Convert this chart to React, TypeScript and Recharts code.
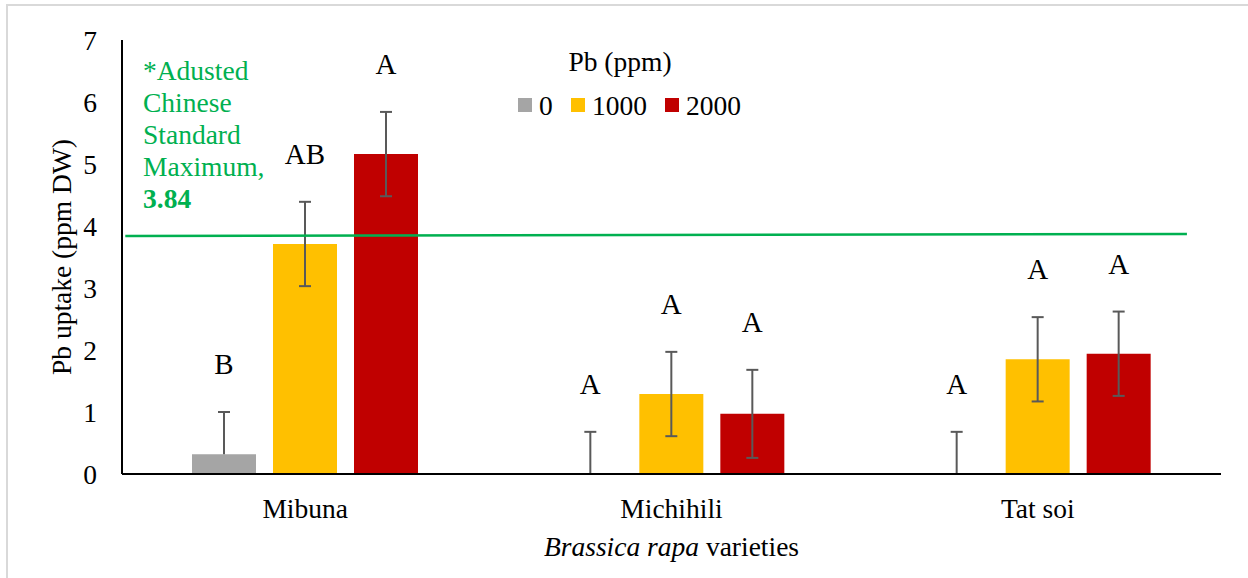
import { Bar, BarChart, ErrorBar, Label, LabelList, ReferenceLine, XAxis, YAxis } from "recharts";

const VARIETIES = ["Mibuna", "Michihili", "Tat soi"];

// mean Pb uptake per treatment (ppm DW)
const PB_0 = [0.32, 0, 0];
const PB_1000 = [3.71, 1.29, 1.85];
const PB_2000 = [5.16, 0.97, 1.94];

// error bar sizes
const ERR_0 = [0.68, 0.68, 0.68];
const ERR_1000 = [0.68, 0.68, 0.68];
const ERR_2000 = [0.68, 0.71, 0.68];

// significance letters
const LETTERS_0 = ["B", "A", "A"];
const LETTERS_1000 = ["AB", "A", "A"];
const LETTERS_2000 = ["A", "A", "A"];

const Y_TICKS = [0, 1, 2, 3, 4, 5, 6, 7];
const STANDARD_MAX = 3.84;
const STANDARD_TEXT = ["*Adusted", "Chinese", "Standard", "Maximum,"];

const SERIES = [
  { key: "pb0", name: "0", color: "#a5a5a5", values: PB_0, errs: ERR_0, letters: LETTERS_0, upperOnly: true },
  { key: "pb1000", name: "1000", color: "#ffc000", values: PB_1000, errs: ERR_1000, letters: LETTERS_1000, upperOnly: false },
  { key: "pb2000", name: "2000", color: "#c00000", values: PB_2000, errs: ERR_2000, letters: LETTERS_2000, upperOnly: false },
];

const FONT = "Liberation Serif, Times New Roman, Tinos, DejaVu Serif, serif";
const GREEN = "#00b050";
const ERR_COLOR = "#595959";

const data = VARIETIES.map((name, i) => {
  const row: Record<string, unknown> = { name };
  SERIES.forEach((s) => {
    row[s.key] = s.values[i];
    row[s.key + "Err"] = [s.errs[i], s.errs[i]];
    row[s.key + "Gap"] = s.errs[i];
    row[s.key + "Letter"] = s.letters[i];
  });
  return row;
});

// upper half of an error bar, drawn over the invisible stacked segment
function UpperErrorShape(props: any) {
  const { x, y, width, height } = props;
  const cx = x + width / 2;
  return (
    <g>
      <line x1={cx} x2={cx} y1={y} y2={y + height} stroke={ERR_COLOR} strokeWidth={2} />
      <line x1={cx - 6} x2={cx + 6} y1={y} y2={y} stroke={ERR_COLOR} strokeWidth={2} />
    </g>
  );
}

// the standard line stops a little short of the plot's right edge
function StandardLine(props: any) {
  const { x1, x2, y1, y2 } = props;
  const w = x2 - x1;
  return (
    <line
      x1={x1 + w * 0.003}
      x2={x1 + w * 0.969}
      y1={y1}
      y2={y2 - 2}
      stroke={GREEN}
      strokeWidth={2.5}
    />
  );
}

function YTitle(props: any) {
  const { viewBox } = props;
  const cx = viewBox.x + 21;
  const cy = viewBox.y + viewBox.height / 2;
  return (
    <text
      x={cx}
      y={cy}
      dy="0.35em"
      textAnchor="middle"
      transform={`rotate(-90, ${cx}, ${cy})`}
      style={{ fontFamily: FONT }}
      fontSize={27.5}
      fill="#000"
    >
      Pb uptake (ppm DW)
    </text>
  );
}

function XTitle(props: any) {
  const { viewBox } = props;
  return (
    <text
      x={viewBox.x + viewBox.width / 2}
      y={viewBox.y + 82}
      textAnchor="middle"
      style={{ fontFamily: FONT }}
      fontSize={27.5}
      fill="#000"
    >
      <tspan fontStyle="italic">Brassica rapa</tspan> varieties
    </text>
  );
}

function StandardNote(props: any) {
  const { viewBox } = props;
  const x = viewBox.x + 21;
  const lastBaseline = viewBox.y - 28;
  const lines = [...STANDARD_TEXT, String(STANDARD_MAX)];
  return (
    <text style={{ fontFamily: FONT }} fontSize={27.5} fill={GREEN}>
      {lines.map((line, i) => (
        <tspan
          key={line}
          x={x}
          y={lastBaseline - (lines.length - 1 - i) * 32}
          fontWeight={i === lines.length - 1 ? "bold" : "normal"}
        >
          {line}
        </tspan>
      ))}
    </text>
  );
}

function LegendOverlay() {
  const itemX = [518, 571, 665];
  return (
    <svg
      width={1248}
      height={578}
      style={{ position: "absolute", left: 0, top: 0, pointerEvents: "none", fontFamily: FONT }}
    >
      <text x={620} y={71} textAnchor="middle" fontSize={27.5} fill="#000">
        Pb (ppm)
      </text>
      {SERIES.map((s, i) => (
        <g key={s.key}>
          <rect x={itemX[i]} y={98} width={14} height={14} fill={s.color} />
          <text x={itemX[i] + 21} y={115} fontSize={27.5} fill="#000">
            {s.name}
          </text>
        </g>
      ))}
    </svg>
  );
}

export default function App() {
  const tickStyle = { fill: "#000", fontSize: 27.5, fontFamily: FONT };
  return (
    <div
      style={{
        position: "absolute",
        left: 0,
        top: 0,
        width: 1248,
        height: 578,
        overflow: "hidden",
        background: "#fff",
        fontFamily: FONT,
      }}
    >
      <div
        style={{
          position: "absolute",
          left: 6,
          top: 4,
          width: 1280,
          height: 620,
          border: "2px solid #d9d9d9",
        }}
      />
      <BarChart
        width={1248}
        height={578}
        data={data}
        margin={{ top: 40, right: 27, bottom: 34, left: 40 }}
        barSize={64}
        barGap={17}
        style={{ fontFamily: FONT }}
      >
        <XAxis
          dataKey="name"
          height={70}
          tickLine={false}
          tickSize={0}
          tickMargin={24}
          axisLine={{ stroke: "#000", strokeWidth: 2 }}
          tick={tickStyle}
        >
          <Label content={XTitle} />
        </XAxis>
        <YAxis
          width={82}
          domain={[0, 7]}
          ticks={Y_TICKS}
          interval={0}
          tickLine={false}
          tickSize={0}
          tickMargin={25}
          axisLine={{ stroke: "#000", strokeWidth: 2 }}
          tick={tickStyle}
        >
          <Label content={YTitle} />
        </YAxis>
        {SERIES.flatMap((s) => [
          <Bar
            key={s.key}
            dataKey={s.key}
            stackId={s.key}
            fill={s.color}
            isAnimationActive={false}
          >
            {!s.upperOnly && (
              <ErrorBar
                dataKey={s.key + "Err"}
                width={6}
                stroke={ERR_COLOR}
                strokeWidth={2}
                direction="y"
              />
            )}
          </Bar>,
          <Bar
            key={s.key + "Gap"}
            dataKey={s.key + "Gap"}
            stackId={s.key}
            fill="transparent"
            legendType="none"
            shape={s.upperOnly ? UpperErrorShape : undefined}
            isAnimationActive={false}
          >
            <LabelList
              dataKey={s.key + "Letter"}
              position="top"
              offset={38}
              fill="#000"
              fontSize={29}
              fontFamily={FONT}
            />
          </Bar>,
        ])}
        <ReferenceLine
          y={STANDARD_MAX}
          stroke={GREEN}
          strokeWidth={2.5}
          shape={StandardLine}
          label={<StandardNote />}
        />
      </BarChart>
      <LegendOverlay />
    </div>
  );
}
